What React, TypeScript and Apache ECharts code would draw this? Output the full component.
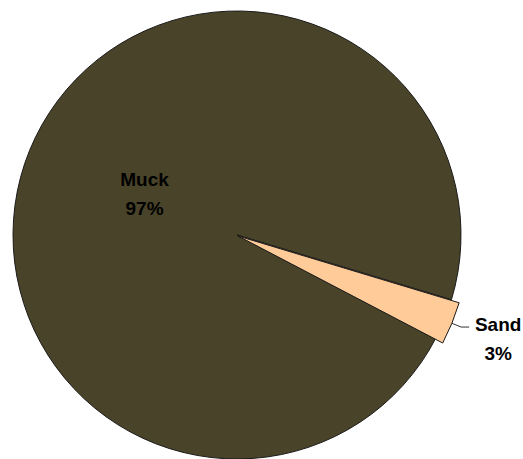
import React, { useEffect, useRef } from "react";
import * as echarts from "echarts";

const categories = ["Muck", "Sand"];
const values = [97, 3];
const colors = ["#494429", "#FFCC99"];

export default function App() {
  const ref = useRef<HTMLDivElement>(null);
  useEffect(() => {
    document.body.style.margin = "0";
    const chart = echarts.init(ref.current!, null, { renderer: "svg" });
    const font = "'Liberation Sans', Arial, sans-serif";
    const baseData = categories.map((name, i) => ({
      name,
      value: values[i],
      itemStyle: { color: colors[i] },
      label: i === 0 ? { show: true } : { show: false },
      labelLine: { show: false },
    }));
    const overlayData = categories.map((name, i) => ({
      name,
      value: values[i],
      itemStyle:
        i === 0
          ? { color: "rgba(0,0,0,0)", borderWidth: 0 }
          : { color: colors[i], borderColor: "#1a1a1a", borderWidth: 1 },
      label: i === 0 ? { show: false } : { show: true },
      labelLine: i === 0 ? { show: false } : { show: true },
    }));
    chart.setOption({
      animation: false,
      series: [
        {
          type: "pie",
          center: [237, 235],
          radius: 224,
          startAngle: -27.6,
          clockwise: true,
          silent: true,
          data: baseData,
          itemStyle: { borderColor: "#1a1a1a", borderWidth: 1 },
          label: {
            position: "inside",
            formatter: "{b}\n{d}%",
            color: "#000",
            fontFamily: font,
            fontWeight: "bold",
            fontSize: 19,
            lineHeight: 29,
            offset: [14, 2],
          },
        },
        {
          type: "pie",
          center: [238, 236],
          radius: 231,
          startAngle: -27.6,
          clockwise: true,
          silent: true,
          data: overlayData,
          label: {
            position: "outside",
            formatter: "{b}\n{d}%",
            color: "#000",
            fontFamily: font,
            fontWeight: "bold",
            fontSize: 19,
            lineHeight: 29,
            overflow: "none",
            edgeDistance: 0,
          },
          labelLine: {
            length: 10,
            length2: 8,
            lineStyle: { color: "#333", width: 1 },
          },
          labelLayout: (params: any) => {
            const pts = params.labelLinePoints;
            if (!pts) return {};
            const end = pts[pts.length - 1];
            return {
              x: end[0] + 29,
              y: end[1] + 12,
              align: "center",
              verticalAlign: "middle",
              labelLinePoints: pts,
            };
          },
        },
      ],
    });
    return () => chart.dispose();
  }, []);
  return (
    <div
      ref={ref}
      style={{ position: "absolute", left: 0, top: 0, width: 523, height: 459 }}
    />
  );
}
